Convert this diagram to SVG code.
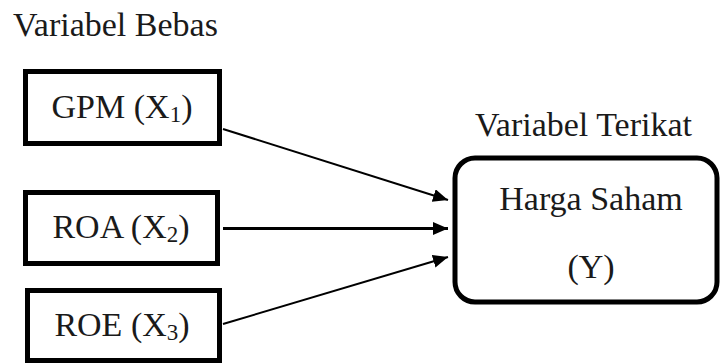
<svg xmlns="http://www.w3.org/2000/svg" width="720" height="363" viewBox="0 0 720 363">
<style>
.box{fill:#fff;stroke:#000;stroke-width:5}
.ln{stroke:#000;stroke-width:2;fill:none}
.thick{stroke-width:3}
</style>
<defs>
<marker id="ah" markerUnits="userSpaceOnUse" markerWidth="16" markerHeight="14" refX="15" refY="6.5" orient="auto">
<path d="M0,0 L15,6.5 L0,13 z" fill="#000"/>
</marker>
</defs>
<rect width="720" height="363" fill="#fff"/>
<text x="13" y="36" font-family="Liberation Serif" font-size="34" fill="#1a1a1a">Variabel Bebas</text>
<text x="475" y="136" font-family="Liberation Serif" font-size="34" fill="#1a1a1a">Variabel Terikat</text>
<g id="connectors">
<line class="ln" x1="223" y1="129" x2="448" y2="200" marker-end="url(#ah)"/>
<line class="ln thick" x1="223" y1="228.5" x2="448" y2="228.5" marker-end="url(#ah)"/>
<line class="ln" x1="223" y1="324" x2="448" y2="257" marker-end="url(#ah)"/>
</g>
<g id="gpm">
<rect class="box" x="25.5" y="71.5" width="194" height="72"/>
<text x="122" y="118" text-anchor="middle" font-family="Liberation Serif" font-size="34" fill="#1a1a1a">GPM (X<tspan font-size="23" dy="4">1</tspan><tspan dy="-4">)</tspan></text>
</g>
<g id="roa">
<rect class="box" x="25.5" y="192.5" width="192" height="71"/>
<text x="121" y="238" text-anchor="middle" font-family="Liberation Serif" font-size="34" fill="#1a1a1a">ROA (X<tspan font-size="23" dy="4">2</tspan><tspan dy="-4">)</tspan></text>
</g>
<g id="roe">
<rect class="box" x="27.5" y="290.5" width="192" height="70"/>
<text x="122" y="336" text-anchor="middle" font-family="Liberation Serif" font-size="34" fill="#1a1a1a">ROE (X<tspan font-size="23" dy="4">3</tspan><tspan dy="-4">)</tspan></text>
</g>
<g id="harga">
<rect class="box" x="455" y="158" width="262" height="144" rx="20" ry="20"/>
<text x="591" y="210" text-anchor="middle" font-family="Liberation Serif" font-size="34" fill="#1a1a1a">Harga Saham</text>
<text x="591" y="278" text-anchor="middle" font-family="Liberation Serif" font-size="34" fill="#1a1a1a">(Y)</text>
</g>
</svg>
